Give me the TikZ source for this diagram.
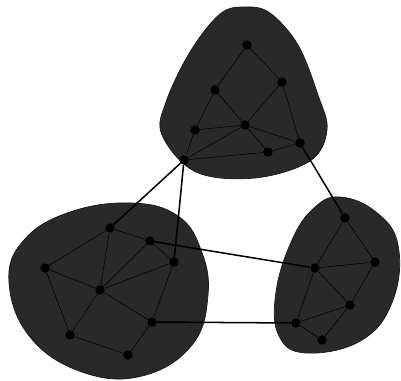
\documentclass[tikz,border=0pt]{standalone}
\usepackage{xcolor}
\usepackage{tikz}

\begin{document}
\begin{tikzpicture}[x=0.03cm, y=-0.03cm,
    blob/.style={fill=black!84, draw=black!90, line width=0.6pt},
    vtx/.style={circle, fill=black, inner sep=0pt, minimum size=8pt},
    link/.style={line width=1.3pt, black},
    inlink/.style={line width=0.45pt, black}]
    \useasboundingbox (0,0) rectangle (401,380);

    % Clusters
    \draw[blob] plot[smooth cycle, tension=0.6] coordinates {(245,7) (270,13) (298,45) (318,95) (327,130) (310,161) (255,178) (196,172) (162,135) (166,102) (190,52) (220,14)};
    \draw[blob] plot[smooth cycle, tension=0.7] coordinates {(132,203) (178,216) (201,250) (208,295) (192,345) (142,376) (82,372) (30,337) (9,282) (24,240) (70,212)};
    \draw[blob] plot[smooth cycle, tension=0.7] coordinates {(340,197) (376,212) (398,245) (393,300) (362,340) (307,353) (279,336) (276,292) (292,240) (314,208)};

    % Top cluster
    \node[vtx] (ta) at (247,45) {};
    \node[vtx] (tb) at (282,82) {};
    \node[vtx] (tc) at (215,90) {};
    \node[vtx] (td) at (245,125) {};
    \node[vtx] (te) at (195,130) {};
    \node[vtx] (tf) at (184,160) {};
    \node[vtx] (tg) at (300,143) {};
    \node[vtx] (th) at (268,152) {};

    % Left cluster
    \node[vtx] (la) at (110,228) {};
    \node[vtx] (lb) at (150,241) {};
    \node[vtx] (lc) at (174,262) {};
    \node[vtx] (ld) at (45,268) {};
    \node[vtx] (le) at (100,290) {};
    \node[vtx] (lf) at (152,322) {};
    \node[vtx] (lg) at (70,335) {};
    \node[vtx] (lh) at (128,355) {};

    % Right cluster
    \node[vtx] (ra) at (345,218) {};
    \node[vtx] (rb) at (315,268) {};
    \node[vtx] (rc) at (375,262) {};
    \node[vtx] (rd) at (350,305) {};
    \node[vtx] (re) at (296,323) {};
    \node[vtx] (rf) at (322,340) {};

    % Edges inside clusters
    \foreach \a/\b in {ta/tb, ta/tc, tb/td, tc/td, tc/te, td/te, te/tf, td/th, th/tg, tb/tg, td/tg, tf/td, th/tf}
        \draw[inlink] (\a) -- (\b);
    \foreach \a/\b in {la/lb, lb/lc, la/ld, ld/le, le/la, le/lb, le/lc, le/lf, lc/lf, le/lg, lg/lh, lh/lf, ld/lg}
        \draw[inlink] (\a) -- (\b);
    \foreach \a/\b in {ra/rb, ra/rc, rb/rc, rb/rd, rc/rd, rd/re, rb/re, re/rf, rf/rd}
        \draw[inlink] (\a) -- (\b);

    % Edges between clusters
    \draw[link] (tf) -- (la);
    \draw[link] (tf) -- (lc);
    \draw[link] (lb) -- (rb);
    \draw[link] (lf) -- (re);
    \draw[link] (tg) -- (ra);
\end{tikzpicture}
\end{document}
